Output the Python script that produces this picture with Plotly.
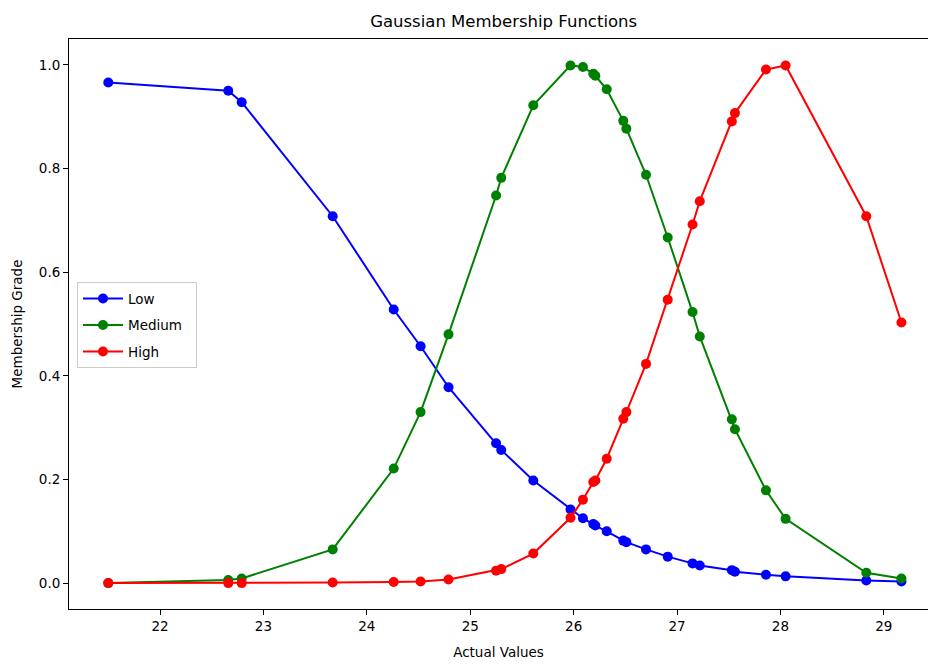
import plotly.graph_objects as go

actual_values = [21.50, 22.66, 22.79, 23.67, 24.26, 24.52, 24.79, 25.25, 25.30, 25.61,
                 25.97, 26.09, 26.19, 26.21, 26.32, 26.48, 26.51, 26.70, 26.91, 27.15,
                 27.22, 27.53, 27.56, 27.86, 28.05, 28.83, 29.17]

low = [0.966, 0.950, 0.928, 0.708, 0.528, 0.457, 0.378, 0.270, 0.257, 0.198,
       0.142, 0.125, 0.114, 0.111, 0.100, 0.082, 0.079, 0.065, 0.051, 0.038,
       0.034, 0.025, 0.022, 0.016, 0.013, 0.005, 0.003]

medium = [0.000, 0.006, 0.009, 0.065, 0.221, 0.330, 0.480, 0.748, 0.782, 0.922,
          0.999, 0.996, 0.983, 0.979, 0.953, 0.892, 0.877, 0.788, 0.667, 0.523,
          0.476, 0.316, 0.297, 0.179, 0.124, 0.020, 0.009]

high = [0.000, 0.000, 0.000, 0.001, 0.002, 0.003, 0.007, 0.024, 0.027, 0.057,
        0.126, 0.161, 0.195, 0.198, 0.240, 0.317, 0.330, 0.423, 0.547, 0.692,
        0.737, 0.891, 0.907, 0.991, 0.999, 0.708, 0.503]

series_names = ["Low", "Medium", "High"]
series_colors = ["blue", "green", "red"]
x_ticks = [22, 23, 24, 25, 26, 27, 28, 29]
y_ticks = [0.0, 0.2, 0.4, 0.6, 0.8, 1.0]

FONT = "DejaVu Sans"

fig = go.Figure()
for name, vals, col in zip(series_names, [low, medium, high], series_colors):
    fig.add_trace(go.Scatter(
        x=actual_values, y=vals, name=name + "  ", mode="lines+markers",
        line=dict(color=col, width=2),
        marker=dict(color=col, size=10),
        legendgroup=name,
    ))

fig.update_layout(
    width=928, height=664,
    margin=dict(l=69, r=0, t=39, b=55),
    paper_bgcolor="white", plot_bgcolor="white",
    font=dict(family=FONT, size=13.5, color="black"),
    showlegend=True,
    legend=dict(
        x=0.0093, y=0.5734, xanchor="left", yanchor="top",
        bgcolor="rgba(255,255,255,0.8)", bordercolor="#cccccc", borderwidth=1,
        font=dict(family=FONT, size=13.5, color="black"),
        tracegroupgap=6, itemwidth=40,
    ),
    title=dict(
        text="Gaussian Membership Functions",
        x=0.506, xref="paper", xanchor="center",
        y=1 - 21 / 664, yref="container", yanchor="middle",
        font=dict(family=FONT, size=16.5, color="black"),
    ),
)

fig.update_xaxes(
    range=[21.12, 29.427], tickvals=x_ticks, ticktext=[str(t) for t in x_ticks],
    showgrid=False, zeroline=False,
    showline=True, linecolor="black", linewidth=1, mirror=True,
    ticks="outside", ticklen=5, tickcolor="black", tickwidth=1,
    tickfont=dict(family=FONT, size=13.5, color="black"),
    title=dict(text="Actual Values", font=dict(family=FONT, size=13.5, color="black"), standoff=14),
)
fig.update_yaxes(
    range=[-0.05, 1.05], tickvals=y_ticks, ticktext=[f"{t:.1f}" for t in y_ticks],
    showgrid=False, zeroline=False,
    showline=True, linecolor="black", linewidth=1, mirror=False,
    ticks="outside", ticklen=5, tickcolor="black", tickwidth=1,
    tickfont=dict(family=FONT, size=13.5, color="black"),
    title=dict(text="Membership Grade", font=dict(family=FONT, size=13.5, color="black"), standoff=13),
)

fig.write_html("out.html")
